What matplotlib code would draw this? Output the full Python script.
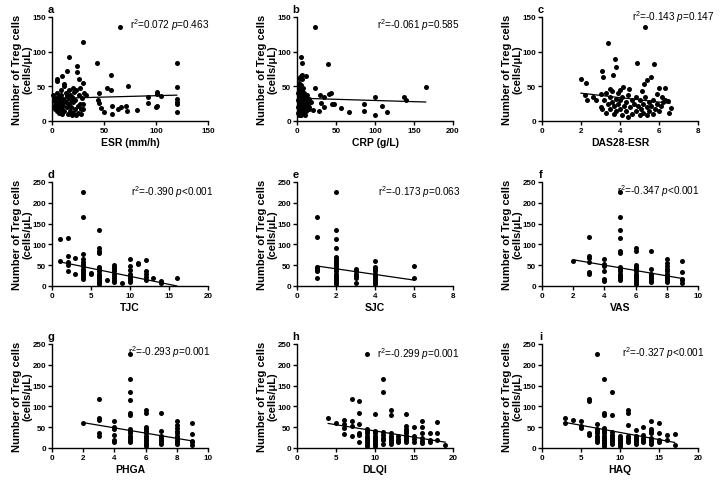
import numpy as np
import matplotlib
matplotlib.use('Agg')
import matplotlib.pyplot as plt

plt.rcParams['font.family'] = ['Liberation Sans', 'DejaVu Sans']
plt.rcParams['mathtext.fontset'] = 'custom'
plt.rcParams['mathtext.rm'] = 'Liberation Sans'
plt.rcParams['mathtext.it'] = 'Liberation Sans:italic'
plt.rcParams['mathtext.bf'] = 'Liberation Sans:bold'

# ---------------- data ----------------
esr_x = [65, 30, 16, 43, 24, 5, 5, 10, 14, 24, 26, 30, 27, 57, 53, 57, 73, 45, 33, 92, 101, 101, 92, 101,
         58, 63, 66, 71, 72, 82, 50, 58, 45, 47, 44, 105, 120, 120, 120, 120, 120, 120, 100,
         1, 2, 2, 3, 3, 4, 4, 5, 5, 6, 6, 7, 7, 8, 8, 9, 9, 10, 10, 11, 11, 12, 12, 12, 13, 13, 14, 14,
         15, 15, 16, 16, 17, 17, 18, 18, 19, 19, 20, 20, 21, 22, 22, 23, 23, 25, 25, 26, 27, 28, 28, 29,
         30, 30, 31, 20, 9]
esr_y = [135, 114, 92, 84, 79, 60, 57, 65, 72, 70, 61, 55, 47, 66, 48, 45, 50, 40, 37, 35, 42, 39, 26, 22,
         21, 17, 20, 21, 14, 16, 13, 10, 26, 19, 31, 36, 83, 49, 32, 27, 25, 13, 20,
         38, 30, 22, 18, 27, 33, 25, 40, 15, 28, 20, 35, 12, 24, 30, 38, 18, 26, 10, 32, 22, 53, 50, 14, 40, 28, 36, 20,
         33, 10, 25, 44, 38, 15, 30, 20, 8, 35, 28, 12, 42, 18, 30, 8, 45, 22, 12, 38, 25, 18, 10, 33,
         25, 18, 40, 48, 44]

crp_x = [23.5, 5, 6, 40, 6, 5, 12, 22.7, 43, 41.6, 35, 30, 31, 35, 45, 47, 56, 67, 86, 86, 100, 100, 109, 116,
         137, 140, 165, 28,
         1, 1, 1, 1, 2, 2, 2, 2, 3, 3, 3, 3, 3, 4, 4, 4, 4, 5, 5, 5, 5, 6, 6, 6, 6, 7, 7, 7, 8, 8, 8,
         9, 9, 9, 10, 10, 11, 11, 12, 12, 13, 13, 14, 15, 15, 16, 18, 20, 10, 3]
crp_y = [135, 92, 84, 82, 67, 65, 65, 48, 41, 38.6, 34, 38, 26, 20, 24, 25, 19, 13, 24, 14, 35, 9, 21, 13,
         35, 31, 49, 14,
         40, 30, 20, 12, 50, 35, 25, 8, 55, 45, 30, 18, 10, 42, 33, 22, 14, 38, 28, 52, 8, 60, 45, 30, 18, 36, 24, 12, 48, 33, 20,
         40, 27, 15, 30, 22, 35, 18, 28, 14, 38, 22, 25, 32, 17, 20, 28, 16, 8, 62]

das_x = [5.26, 3.38, 3.76, 3.81, 4.85, 5.74, 3.1, 3.12, 3.64, 1.98, 2.26, 5.6, 5.4, 5.23, 5.14, 6.0, 6.3,
         4.16, 4.45, 3.47, 3.59, 3.04, 2.19, 2.3, 2.64, 2.78, 5.9, 6.14, 6.3, 6.47, 6.6, 6.5,
         3.0, 3.1, 3.2, 3.3, 3.4, 3.5, 3.5, 3.6, 3.7, 3.7, 3.8, 3.8, 3.9, 3.9, 4.0, 4.0, 4.1, 4.1, 4.2, 4.3,
         4.3, 4.4, 4.5, 4.6, 4.6, 4.7, 4.8, 4.8, 4.9, 5.0, 5.0, 5.1, 5.2, 5.2, 5.3, 5.4, 5.4, 5.5, 5.5, 5.6,
         5.7, 5.7, 5.8, 5.9, 6.0, 6.1, 6.2, 4.4, 3.3, 4.0]
das_y = [135, 113, 90, 78, 83, 82, 72, 63, 67, 60, 55, 64, 59, 54, 43, 48, 47,
         49, 46, 46, 43, 38.6, 37, 31, 34, 30, 38.6, 34, 31, 29, 19, 12,
         20, 18, 30, 12, 25, 35, 18, 28, 10, 22, 32, 15, 40, 25, 18, 30, 8, 35, 22, 28,
         14, 38, 20, 30, 10, 25, 15, 35, 22, 8, 30, 18, 12, 25, 35, 20, 8, 28, 14, 22,
         10, 30, 18, 25, 14, 22, 28, 6, 40, 44]

tjc_cols = [(1, [114, 60]), (2, [116, 72, 57, 50, 35]), (3, [68, 28]),
            (4, [225, 167, 78, 65, 58, 52, 47, 42, 37, 32, 27, 22, 17]), (5, [32, 28]),
            (6, [135, 92, 85, 80, 45, 40, 35, 30, 25, 20, 15, 10, 5]), (7, [15]),
            (8, [50, 45, 40, 35, 30, 25, 20, 15, 10]), (9, [8]),
            (10, [66, 48, 38, 30, 25, 20, 15, 10]), (11, [55, 52]), (12, [62, 36, 28, 22, 15]),
            (13, [19]), (14, [12, 8]), (16, [19])]
sjc_cols = [(1, [167, 117, 45, 42, 38, 35, 20]),
            (2, [225, 135, 114, 92, 70, 65, 60, 55, 50, 45, 40, 35, 30, 25, 20, 15, 10, 5]),
            (3, [42, 38, 35, 30, 25, 20, 8]), (4, [60, 45, 40, 35, 30, 25, 20, 15, 10, 5]),
            (6, [48, 20])]
vas_cols = [(2, [61]), (3, [117, 72, 68, 57, 33, 28]), (4, [65, 52, 48, 35, 18, 12]),
            (5, [225, 167, 135, 115, 83, 80, 45, 40, 35, 30, 25, 20, 15]),
            (6, [92, 85, 50, 45, 40, 35, 30, 25, 20, 15, 10, 5]), (7, [83, 42, 30, 25, 20, 15, 10]),
            (8, [66, 55, 48, 40, 35, 30, 25, 20, 15, 10]), (9, [61, 34, 18, 14, 8])]
phga_cols = [(2, [61]), (3, [117, 72, 68, 35, 30]), (4, [65, 50, 45, 32, 20, 15]),
             (5, [225, 167, 135, 115, 83, 80, 45, 40, 35, 30, 25, 20, 15]),
             (6, [92, 85, 50, 45, 40, 35, 30, 25, 20, 15, 10, 5]), (7, [83, 42, 30, 25, 20, 15, 10]),
             (8, [66, 55, 48, 40, 35, 30, 25, 20, 15, 10]), (9, [61, 34, 18, 14, 8])]
dlqi_cols = [(4, [72]), (5, [60]), (6, [68, 58, 47, 34]), (7, [117, 65, 52, 30]),
             (8, [114, 83, 57, 37, 32, 15]), (9, [225, 45, 40, 35, 30, 25, 20, 15, 10, 5]),
             (10, [82, 42, 38, 35, 30, 25, 20, 15, 10, 5]), (11, [167, 135, 38, 32, 25, 20, 10]),
             (12, [92, 80, 35, 30, 25, 20, 15, 10]), (13, [28, 22, 18, 15]),
             (14, [82, 52, 45, 40, 35, 30, 25, 20, 15]), (15, [50, 28, 22, 15]),
             (16, [66, 50, 35, 25, 18, 12]), (17, [35, 20, 15]), (18, [62, 35, 20]), (19, [8])]
haq_cols = [(3, [72, 60]), (4, [68]), (5, [65, 52, 47]), (6, [117, 113, 36, 32]),
            (7, [225, 57, 45, 40, 35, 30, 25, 20, 15]),
            (8, [167, 83, 80, 48, 45, 40, 35, 30, 25, 20, 15, 10, 5]),
            (9, [135, 79, 38, 32, 28, 25, 20, 15, 10]), (10, [30, 25, 20, 15, 10, 5]),
            (11, [92, 85, 55, 30, 25, 20, 15]), (12, [44, 30, 25, 20, 15, 10]),
            (13, [50, 32, 25, 20, 15]), (14, [66, 45, 40, 35, 25, 20, 15, 10]),
            (15, [61, 35, 20, 15]), (16, [32, 20]), (17, [34, 8])]

# regression lines: (intercept, slope, x start, x end)
fit_a = (32.5, 0.04, 0, 120)
fit_b = (33.0, -0.034, 0, 165)
fit_c = (46.5, -3.2, 2.0, 6.55)
fit_d = (62.0, -3.87, 1, 16)
fit_e = (55.0, -6.8, 1, 6)
fit_f = (76.0, -6.45, 2, 9)
fit_g = (73.6, -6.3, 2, 9)
fit_h = (71.0, -3.0, 4, 19)
fit_i = (71.7, -3.43, 3, 17)

stats_text = ['0.072', '-0.061', '-0.143', '-0.390', '-0.173', '-0.347', '-0.293', '-0.299', '-0.327']
p_text = ['=0.463', '=0.585', '=0.147', '<0.001', '=0.063', '<0.001', '=0.001', '=0.001', '<0.001']
letters = ['a', 'b', 'c', 'd', 'e', 'f', 'g', 'h', 'i']
xlabels = ['ESR (mm/h)', 'CRP (g/L)', 'DAS28-ESR', 'TJC', 'SJC', 'VAS', 'PHGA', 'DLQI', 'HAQ']
xticks_list = [[0, 50, 100, 150], [0, 50, 100, 150, 200], [0, 2, 4, 6, 8], [0, 5, 10, 15, 20],
               [0, 2, 4, 6, 8], [0, 2, 4, 6, 8, 10], [0, 2, 4, 6, 8, 10], [0, 5, 10, 15, 20],
               [0, 5, 10, 15, 20]]
yticks_top = [0, 50, 100, 150]
yticks_low = [0, 50, 100, 150, 200, 250]


def expand(cols):
    xs, ys = [], []
    for x, vals in cols:
        xs += [x] * len(vals)
        ys += list(vals)
    return xs, ys


datasets = [(esr_x, esr_y), (crp_x, crp_y), (das_x, das_y), expand(tjc_cols), expand(sjc_cols),
            expand(vas_cols), expand(phga_cols), expand(dlqi_cols), expand(haq_cols)]
fits = [fit_a, fit_b, fit_c, fit_d, fit_e, fit_f, fit_g, fit_h, fit_i]

# ---------------- layout (pixels) ----------------
W, H = 720, 481
lefts = [52, 297, 542]
bottoms = [122, 287, 449]
ax_w, ax_h = 156, 104
stat_pos = [(0.50, 0.93), (0.51, 0.93), (0.58, 1.01), (0.506, 0.91), (0.52, 0.91), (0.48, 0.92),
            (0.49, 0.93), (0.51, 0.91), (0.51, 0.92)]

fig = plt.figure(figsize=(W / 100, H / 100), dpi=100)
fig.patch.set_facecolor('white')

for k in range(9):
    r, c = divmod(k, 3)
    ax = fig.add_axes([lefts[c] / W, 1 - bottoms[r] / H, ax_w / W, ax_h / H])
    xs, ys = datasets[k]
    ax.scatter(xs, ys, s=13, color='black', linewidths=0, clip_on=False, zorder=3)
    b0, b1, x0, x1 = fits[k]
    lx = np.array([x0, x1])
    ax.plot(lx, b0 + b1 * lx, color='black', lw=0.9, zorder=2)
    xt = xticks_list[k]
    ax.set_xlim(xt[0], xt[-1])
    ax.set_xticks(xt)
    yt = yticks_top if r == 0 else yticks_low
    ax.set_ylim(yt[0], yt[-1])
    ax.set_yticks(yt)
    for s in ['top', 'right']:
        ax.spines[s].set_visible(False)
    for s in ['left', 'bottom']:
        ax.spines[s].set_linewidth(1.0)
    ax.tick_params(direction='out', length=3, width=1, labelsize=5.8, pad=1.2)
    for lab in ax.get_xticklabels() + ax.get_yticklabels():
        lab.set_fontweight('bold')
    ax.set_xlabel(xlabels[k], fontsize=7.5, fontweight='bold', labelpad=2)
    ax.set_ylabel('Number of Treg cells\n(cells/\u03bcL)', fontsize=8, fontweight='bold',
                  linespacing=1.1)
    ax.yaxis.set_label_coords(-0.125, 0.5)
    ax.text(-0.01, 1.08, letters[k], transform=ax.transAxes, fontsize=8, fontweight='bold',
            ha='center', va='center')
    sx, sy = stat_pos[k]
    ax.text(sx, sy, r'r$^{2}$=' + stats_text[k] + r' $\mathit{p}$' + p_text[k],
            transform=ax.transAxes, fontsize=7.2, ha='left', va='center')

fig.savefig('out.png', dpi=100, facecolor='white')
